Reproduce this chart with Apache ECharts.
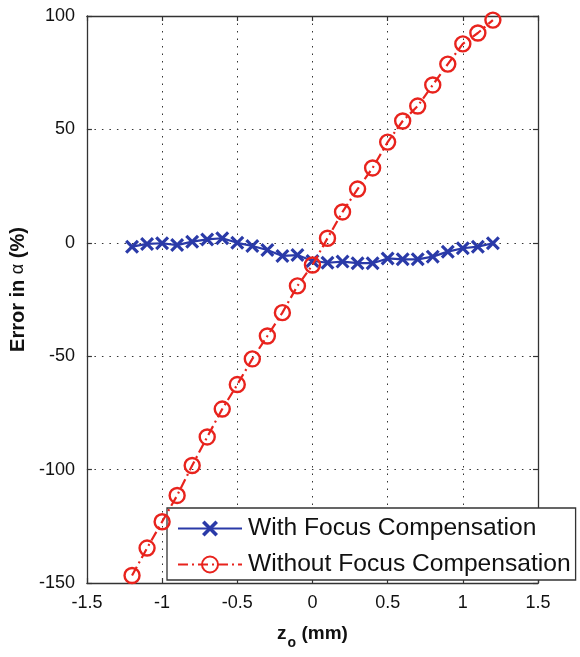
<!DOCTYPE html>
<html>
<head>
<meta charset="utf-8">
<script src="https://cdn.jsdelivr.net/npm/echarts@6/dist/echarts.min.js"></script>
<style>
html,body{margin:0;padding:0;background:#fff;}
#chart{width:580px;height:657px;}
</style>
</head>
<body>
<div id="chart"></div>
<script>
// Data
const zValues = [-1.2, -1.1, -1.0, -0.9, -0.8, -0.7, -0.6, -0.5, -0.4, -0.3, -0.2, -0.1, 0, 0.1, 0.2, 0.3, 0.4, 0.5, 0.6, 0.7, 0.8, 0.9, 1.0, 1.1, 1.2];
const withComp = [-1.7, -0.5, -0.2, -1, 0.5, 1.5, 2, 0, -1.4, -3.2, -5.8, -5.4, -8, -8.8, -8.3, -9, -9, -6.9, -7.3, -7.3, -6.1, -3.9, -2.4, -1.7, -0.2];
const withoutComp = [-146.7, -134.6, -123, -111.4, -98.2, -85.6, -73.3, -62.5, -51.2, -41.1, -30.8, -19, -9.8, 2, 13.6, 23.7, 33, 44.4, 53.7, 60.3, 69.6, 78.8, 87.7, 92.5, 98.2];
const seriesNames = ['With Focus Compensation', 'Without Focus Compensation'];
const xTicks = {min: -1.5, max: 1.5, interval: 0.5};
const yTicks = {min: -150, max: 100, interval: 50};

const FONT = '"Liberation Sans", Arial, Helvetica, sans-serif';
const BLUE = '#2a3aa8';
const RED = '#e8231d';
const crossPath = 'path://M1.6,0 L5,3.4 L8.4,0 L10,1.6 L6.6,5 L10,8.4 L8.4,10 L5,6.6 L1.6,10 L0,8.4 L3.4,5 L0,1.6 Z';

const pairs = (xs, ys) => xs.map((x, i) => [x, ys[i]]);

const gridLine = {show: true, lineStyle: {color: '#333', width: 1, type: [1.5, 6]}};
const axisLineStyle = {show: true, onZero: false, lineStyle: {color: '#333', width: 1.3}};
const tickStyle = {show: true, inside: true, length: 5, lineStyle: {color: '#333', width: 1.2}};

const chart = echarts.init(document.getElementById('chart'), null, {renderer: 'canvas'});
chart.setOption({
  backgroundColor: '#fff',
  animation: false,
  grid: {left: 86, right: 42, top: 16, bottom: 74, containLabel: false},
  legend: {
    orient: 'vertical',
    left: 167,
    top: 508,
    backgroundColor: '#fff',
    borderColor: '#333',
    borderWidth: 1.3,
    borderRadius: 0,
    padding: [8, 5, 3, 10],
    itemGap: 11,
    itemWidth: 64,
    itemHeight: 20,
    textStyle: {fontFamily: FONT, fontSize: 24.6, color: '#111', padding: [0, 0, 0, 1]},
    data: seriesNames
  },
  xAxis: [{
    type: 'value', position: 'bottom',
    min: xTicks.min, max: xTicks.max, interval: xTicks.interval,
    axisLine: axisLineStyle, axisTick: tickStyle,
    splitLine: gridLine,
    axisLabel: {fontFamily: FONT, fontSize: 18, color: '#111', margin: 11},
    name: '{b|z}{s|o}{b| (mm)}',
    nameLocation: 'middle', nameGap: 36,
    nameTextStyle: {
      rich: {
        b: {fontFamily: FONT, fontSize: 19, fontWeight: 'bold', color: '#111', lineHeight: 22},
        s: {fontFamily: FONT, fontSize: 14, fontWeight: 'bold', color: '#111', lineHeight: 14, padding: [19, 0, 0, 1]}
      }
    }
  }, {
    type: 'value', position: 'top',
    min: xTicks.min, max: xTicks.max, interval: xTicks.interval,
    axisLine: axisLineStyle, axisTick: tickStyle,
    splitLine: {show: false}, axisLabel: {show: false}
  }],
  yAxis: [{
    type: 'value', position: 'left',
    min: yTicks.min, max: yTicks.max, interval: yTicks.interval,
    axisLine: axisLineStyle, axisTick: tickStyle,
    splitLine: gridLine,
    axisLabel: {fontFamily: FONT, fontSize: 18, color: '#111', margin: 12},
    name: '{b|Error in }{a|α}{b| (%)}',
    nameLocation: 'middle', nameGap: 53, nameRotate: 90,
    nameTextStyle: {
      padding: [0, 0, 0, 20],
      rich: {
        b: {fontFamily: FONT, fontSize: 20, fontWeight: 'bold', color: '#111'},
        a: {fontFamily: FONT, fontSize: 18, color: '#111'}
      }
    }
  }, {
    type: 'value', position: 'right',
    min: yTicks.min, max: yTicks.max, interval: yTicks.interval,
    axisLine: axisLineStyle, axisTick: tickStyle,
    splitLine: {show: false}, axisLabel: {show: false}
  }],
  series: [{
    name: seriesNames[0],
    type: 'line',
    data: pairs(zValues, withComp),
    symbol: crossPath,
    symbolSize: 14,
    showAllSymbol: true,
    lineStyle: {color: BLUE, width: 2.2},
    itemStyle: {color: BLUE},
    z: 3
  }, {
    name: seriesNames[1],
    type: 'line',
    data: pairs(zValues, withoutComp),
    symbol: 'circle',
    symbolSize: 15,
    showAllSymbol: true,
    lineStyle: {color: RED, width: 2.2, type: [10, 4, 2, 4]},
    itemStyle: {color: 'rgba(255,255,255,0)', borderColor: RED, borderWidth: 2.4},
    z: 4
  }]
});
</script>
</body>
</html>
